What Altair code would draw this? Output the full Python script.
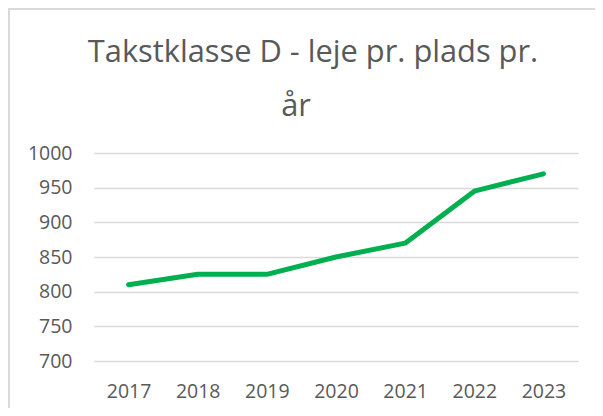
import altair as alt
import pandas as pd

years = ["2017", "2018", "2019", "2020", "2021", "2022", "2023"]
values = [810, 825, 825, 850, 870, 945, 970]
y_ticks = [700, 750, 800, 850, 900, 950, 1000]
title_line1 = "Takstklasse D - leje pr. plads pr."
title_line2 = "år"

df = pd.DataFrame({"year": years, "value": values})

FONT = "Open Sans"
GREY = "#595959"
GRID = "#d9d9d9"

line = alt.Chart(df).mark_line(color="#00B050", strokeWidth=5, strokeCap="round", strokeJoin="round").encode(
    x=alt.X("year:O", scale=alt.Scale(type="point", padding=0.5),
            axis=alt.Axis(title=None, labelAngle=0, domain=False, ticks=False, labelFont=FONT,
                          labelFontSize=19.5, labelColor=GREY, labelPadding=36,
                          labelBaseline="alphabetic")),
    y=alt.Y("value:Q", scale=alt.Scale(domain=[700, 1000], nice=False, zero=False),
            axis=alt.Axis(title=None, values=y_ticks, format="d", domain=False, ticks=False,
                          labelFont=FONT, labelFontSize=19.5, labelColor=GREY, labelPadding=22,
                          gridColor=GRID, gridWidth=1.4)),
)

border_top = alt.Chart(df).mark_rule(color=GRID, strokeWidth=1.5).encode(
    x=alt.value(-86), x2=alt.value(501), y=alt.value(-144)
)
border_left = alt.Chart(df).mark_rule(color=GRID, strokeWidth=1.5).encode(
    x=alt.value(-85), y=alt.value(-145), y2=alt.value(255)
)

t1 = alt.Chart(pd.DataFrame({"t": [title_line1]})).mark_text(
    font=FONT, fontSize=30.8, color=GREY, align="center", baseline="alphabetic"
).encode(text="t:N", x=alt.value(219), y=alt.value(-91))
t2 = alt.Chart(pd.DataFrame({"t": [title_line2]})).mark_text(
    font=FONT, fontSize=30.8, color=GREY, align="center", baseline="alphabetic"
).encode(text="t:N", x=alt.value(202), y=alt.value(-37))

chart = alt.layer(border_top, border_left, t1, t2, line).properties(
    width=484,
    height=208,
    autosize=alt.AutoSizeParams(type="none"),
    padding={"left": 86, "top": 145, "right": 17, "bottom": 47},
    background="white",
).configure_view(stroke=None)

chart.save("out.html", embed_options={"renderer": "svg", "actions": False})
